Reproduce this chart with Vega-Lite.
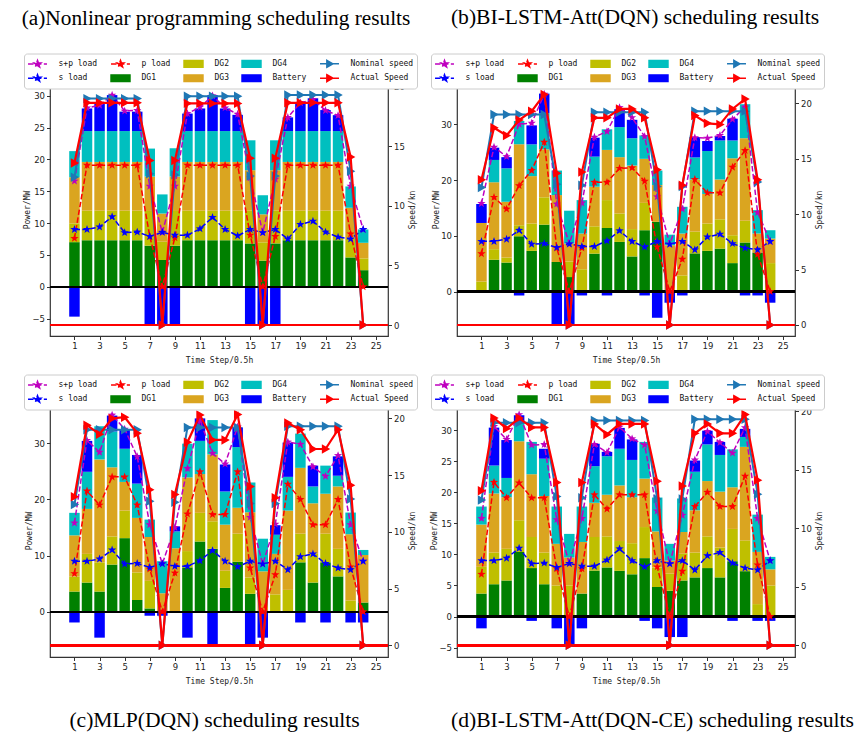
{
"$schema":"https://vega.github.io/schema/vega-lite/v6.json",
"autosize":{"type":"none"},
"padding":{"left":50,"top":83,"right":815,"bottom":658},
"background":"white",
"datasets":{
"a":[
{"t":1,"DG1":7.0,"DG2":2.95,"DG3":7.25,"DG4":4.1,"Battery":-4.7,"s+p load":16.6,"p load":7.6,"s load":9.0,"Nominal speed":12.4,"Actual Speed":13.6},
{"t":2,"DG1":7.3,"DG2":4.65,"DG3":7.65,"DG4":4.85,"Battery":3.55,"s+p load":28.1,"p load":19.1,"s load":9.0,"Nominal speed":19.0,"Actual Speed":18.65},
{"t":3,"DG1":7.3,"DG2":4.65,"DG3":7.65,"DG4":4.85,"Battery":4.25,"s+p load":28.5,"p load":19.1,"s load":9.4,"Nominal speed":19.0,"Actual Speed":18.65},
{"t":4,"DG1":7.3,"DG2":4.65,"DG3":7.65,"DG4":4.85,"Battery":5.65,"s+p load":30.1,"p load":19.1,"s load":11.0,"Nominal speed":19.0,"Actual Speed":18.65},
{"t":5,"DG1":7.3,"DG2":4.65,"DG3":7.65,"DG4":4.85,"Battery":3.05,"s+p load":27.6,"p load":19.1,"s load":8.5,"Nominal speed":19.0,"Actual Speed":18.65},
{"t":6,"DG1":7.3,"DG2":4.65,"DG3":7.65,"DG4":4.85,"Battery":3.05,"s+p load":27.7,"p load":19.1,"s load":8.6,"Nominal speed":19.0,"Actual Speed":18.65},
{"t":7,"DG1":6.45,"DG2":5.45,"DG3":5.4,"DG4":4.4,"Battery":-5.9,"s+p load":15.8,"p load":7.9,"s load":7.9,"Nominal speed":12.7,"Actual Speed":13.8},
{"t":8,"DG1":4.2,"DG2":2.87,"DG3":4.43,"DG4":3.0,"Battery":-5.9,"s+p load":8.55,"p load":0,"s load":8.55,"Nominal speed":0,"Actual Speed":0},
{"t":9,"DG1":6.45,"DG2":5.45,"DG3":5.4,"DG4":4.45,"Battery":-5.9,"s+p load":15.8,"p load":7.7,"s load":8.1,"Nominal speed":12.6,"Actual Speed":13.8},
{"t":10,"DG1":7.3,"DG2":4.65,"DG3":7.65,"DG4":4.85,"Battery":2.75,"s+p load":27.2,"p load":19.1,"s load":8.1,"Nominal speed":19.2,"Actual Speed":18.6},
{"t":11,"DG1":7.3,"DG2":4.65,"DG3":7.65,"DG4":4.85,"Battery":3.55,"s+p load":28.2,"p load":19.1,"s load":9.1,"Nominal speed":19.2,"Actual Speed":18.6},
{"t":12,"DG1":7.3,"DG2":4.65,"DG3":7.65,"DG4":4.85,"Battery":5.65,"s+p load":30.0,"p load":19.1,"s load":10.9,"Nominal speed":19.2,"Actual Speed":18.6},
{"t":13,"DG1":7.3,"DG2":4.65,"DG3":7.65,"DG4":4.85,"Battery":3.55,"s+p load":28.1,"p load":19.1,"s load":9.0,"Nominal speed":19.2,"Actual Speed":18.6},
{"t":14,"DG1":7.3,"DG2":4.65,"DG3":7.65,"DG4":4.85,"Battery":2.55,"s+p load":27.1,"p load":19.1,"s load":8.0,"Nominal speed":19.2,"Actual Speed":18.6},
{"t":15,"DG1":6.8,"DG2":5.14,"DG3":6.36,"DG4":4.7,"Battery":-5.9,"s+p load":17.1,"p load":8.1,"s load":9.0,"Nominal speed":12.5,"Actual Speed":14.0},
{"t":16,"DG1":4.1,"DG2":2.87,"DG3":4.4,"DG4":3.0,"Battery":-5.9,"s+p load":8.5,"p load":0,"s load":8.5,"Nominal speed":0,"Actual Speed":0},
{"t":17,"DG1":6.8,"DG2":5.14,"DG3":6.36,"DG4":4.7,"Battery":-5.9,"s+p load":16.9,"p load":7.9,"s load":9.0,"Nominal speed":12.5,"Actual Speed":14.0},
{"t":18,"DG1":7.3,"DG2":4.65,"DG3":7.65,"DG4":4.85,"Battery":2.15,"s+p load":26.6,"p load":19.1,"s load":7.5,"Nominal speed":19.3,"Actual Speed":18.65},
{"t":19,"DG1":7.3,"DG2":4.65,"DG3":7.65,"DG4":4.85,"Battery":4.35,"s+p load":28.9,"p load":19.1,"s load":9.8,"Nominal speed":19.3,"Actual Speed":18.65},
{"t":20,"DG1":7.3,"DG2":4.65,"DG3":7.65,"DG4":4.85,"Battery":5.15,"s+p load":29.4,"p load":19.1,"s load":10.3,"Nominal speed":19.3,"Actual Speed":18.65},
{"t":21,"DG1":7.3,"DG2":4.65,"DG3":7.65,"DG4":4.85,"Battery":3.3,"s+p load":27.7,"p load":19.1,"s load":8.6,"Nominal speed":19.3,"Actual Speed":18.65},
{"t":22,"DG1":7.3,"DG2":4.65,"DG3":7.65,"DG4":4.85,"Battery":2.5,"s+p load":26.9,"p load":19.1,"s load":7.8,"Nominal speed":19.3,"Actual Speed":18.65},
{"t":23,"DG1":4.6,"DG2":2.9,"DG3":4.9,"DG4":3.35,"Battery":0,"s+p load":15.8,"p load":8.3,"s load":7.5,"Nominal speed":12.9,"Actual Speed":14.1},
{"t":24,"DG1":2.6,"DG2":1.85,"DG3":2.45,"DG4":2.1,"Battery":0,"s+p load":9.0,"p load":0,"s load":9.0,"Nominal speed":0,"Actual Speed":0}
],
"b":[
{"t":1,"DG1":0,"DG2":1.8,"DG3":10.5,"DG4":0,"Battery":3.4,"s+p load":15.8,"p load":6.8,"s load":9.0,"Nominal speed":12.4,"Actual Speed":13.1},
{"t":2,"DG1":5.7,"DG2":1.9,"DG3":12.0,"DG4":4.0,"Battery":2.2,"s+p load":25.9,"p load":16.9,"s load":9.0,"Nominal speed":19.0,"Actual Speed":17.8},
{"t":3,"DG1":5.2,"DG2":0.9,"DG3":10.0,"DG4":6.0,"Battery":2.0,"s+p load":24.2,"p load":14.8,"s load":9.4,"Nominal speed":19.0,"Actual Speed":17.1},
{"t":4,"DG1":9.9,"DG2":2.0,"DG3":14.5,"DG4":4.2,"Battery":-0.7,"s+p load":30.0,"p load":19.0,"s load":11.0,"Nominal speed":19.0,"Actual Speed":18.5},
{"t":5,"DG1":7.3,"DG2":4.9,"DG3":8.5,"DG4":5.7,"Battery":3.4,"s+p load":30.2,"p load":21.7,"s load":8.5,"Nominal speed":19.0,"Actual Speed":19.3},
{"t":6,"DG1":12.0,"DG2":4.9,"DG3":8.6,"DG4":6.5,"Battery":3.5,"s+p load":35.4,"p load":26.8,"s load":8.6,"Nominal speed":19.0,"Actual Speed":20.8},
{"t":7,"DG1":5.3,"DG2":0,"DG3":12.0,"DG4":4.4,"Battery":-6.0,"s+p load":15.7,"p load":7.8,"s load":7.9,"Nominal speed":12.7,"Actual Speed":13.7},
{"t":8,"DG1":2.6,"DG2":2.8,"DG3":3.2,"DG4":5.9,"Battery":-6.0,"s+p load":8.55,"p load":0,"s load":8.55,"Nominal speed":0,"Actual Speed":0},
{"t":9,"DG1":0,"DG2":4.0,"DG3":6.4,"DG4":6.0,"Battery":-0.7,"s+p load":15.9,"p load":7.8,"s load":8.1,"Nominal speed":12.6,"Actual Speed":13.8},
{"t":10,"DG1":6.8,"DG2":4.9,"DG3":7.1,"DG4":5.4,"Battery":3.4,"s+p load":27.7,"p load":19.6,"s load":8.1,"Nominal speed":19.2,"Actual Speed":18.7},
{"t":11,"DG1":11.4,"DG2":5.0,"DG3":9.0,"DG4":3.7,"Battery":-0.7,"s+p load":28.7,"p load":19.6,"s load":9.1,"Nominal speed":19.2,"Actual Speed":18.7},
{"t":12,"DG1":8.9,"DG2":5.1,"DG3":10.1,"DG4":5.4,"Battery":3.2,"s+p load":33.0,"p load":22.1,"s load":10.9,"Nominal speed":19.2,"Actual Speed":19.5},
{"t":13,"DG1":6.3,"DG2":4.9,"DG3":11.4,"DG4":4.9,"Battery":3.3,"s+p load":31.2,"p load":22.2,"s load":9.0,"Nominal speed":19.2,"Actual Speed":19.5},
{"t":14,"DG1":11.0,"DG2":4.9,"DG3":7.9,"DG4":4.2,"Battery":-0.7,"s+p load":27.8,"p load":19.8,"s load":8.0,"Nominal speed":19.2,"Actual Speed":18.7},
{"t":15,"DG1":12.5,"DG2":0,"DG3":6.6,"DG4":2.6,"Battery":-4.7,"s+p load":17.0,"p load":8.0,"s load":9.0,"Nominal speed":12.5,"Actual Speed":14.0},
{"t":16,"DG1":0,"DG2":0,"DG3":8.3,"DG4":1.9,"Battery":-2.0,"s+p load":8.5,"p load":0,"s load":8.5,"Nominal speed":0,"Actual Speed":0},
{"t":17,"DG1":0,"DG2":2.9,"DG3":7.5,"DG4":4.8,"Battery":-0.7,"s+p load":14.8,"p load":5.8,"s load":9.0,"Nominal speed":12.5,"Actual Speed":12.6},
{"t":18,"DG1":6.85,"DG2":3.9,"DG3":9.35,"DG4":3.95,"Battery":3.65,"s+p load":27.6,"p load":20.1,"s load":7.5,"Nominal speed":19.3,"Actual Speed":18.9},
{"t":19,"DG1":7.3,"DG2":4.9,"DG3":5.3,"DG4":7.7,"Battery":1.8,"s+p load":27.5,"p load":17.7,"s load":9.8,"Nominal speed":19.3,"Actual Speed":18.2},
{"t":20,"DG1":7.7,"DG2":5.25,"DG3":7.15,"DG4":7.0,"Battery":0.8,"s+p load":28.0,"p load":17.7,"s load":10.3,"Nominal speed":19.3,"Actual Speed":18.1},
{"t":21,"DG1":5.1,"DG2":5.0,"DG3":13.8,"DG4":3.2,"Battery":3.9,"s+p load":30.9,"p load":22.3,"s load":8.6,"Nominal speed":19.3,"Actual Speed":19.5},
{"t":22,"DG1":8.8,"DG2":3.9,"DG3":14.8,"DG4":6.1,"Battery":-0.7,"s+p load":33.1,"p load":25.3,"s load":7.8,"Nominal speed":19.3,"Actual Speed":20.4},
{"t":23,"DG1":7.0,"DG2":0,"DG3":3.4,"DG4":4.2,"Battery":-0.7,"s+p load":14.2,"p load":6.7,"s load":7.5,"Nominal speed":12.9,"Actual Speed":13.1},
{"t":24,"DG1":0,"DG2":5.1,"DG3":4.4,"DG4":1.5,"Battery":-2.0,"s+p load":9.0,"p load":0,"s load":9.0,"Nominal speed":0,"Actual Speed":0}
],
"c":[
{"t":1,"DG1":3.6,"DG2":2.65,"DG3":7.35,"DG4":4.0,"Battery":-1.9,"s+p load":15.8,"p load":6.8,"s load":9.0,"Nominal speed":12.4,"Actual Speed":13.1},
{"t":2,"DG1":5.2,"DG2":5.1,"DG3":8.0,"DG4":6.6,"Battery":5.5,"s+p load":30.5,"p load":21.5,"s load":9.0,"Nominal speed":19.0,"Actual Speed":19.4},
{"t":3,"DG1":3.6,"DG2":5.2,"DG3":18.3,"DG4":5.9,"Battery":-4.6,"s+p load":28.4,"p load":19.0,"s load":9.4,"Nominal speed":19.0,"Actual Speed":18.6},
{"t":4,"DG1":8.4,"DG2":5.0,"DG3":12.3,"DG4":6.4,"Battery":2.8,"s+p load":35.0,"p load":24.0,"s load":11.0,"Nominal speed":19.0,"Actual Speed":20.0},
{"t":5,"DG1":13.1,"DG2":4.9,"DG3":5.1,"DG4":5.9,"Battery":3.4,"s+p load":32.5,"p load":24.0,"s load":8.5,"Nominal speed":19.0,"Actual Speed":20.1},
{"t":6,"DG1":2.1,"DG2":4.9,"DG3":9.7,"DG4":6.1,"Battery":5.1,"s+p load":27.6,"p load":19.0,"s load":8.6,"Nominal speed":19.0,"Actual Speed":18.7},
{"t":7,"DG1":0.6,"DG2":4.9,"DG3":7.8,"DG4":3.1,"Battery":-0.7,"s+p load":15.5,"p load":7.6,"s load":7.9,"Nominal speed":12.7,"Actual Speed":13.7},
{"t":8,"DG1":0,"DG2":0,"DG3":3.3,"DG4":5.7,"Battery":-0.7,"s+p load":8.55,"p load":0,"s load":8.55,"Nominal speed":0,"Actual Speed":0},
{"t":9,"DG1":0,"DG2":0,"DG3":11.3,"DG4":3.0,"Battery":0.9,"s+p load":15.0,"p load":6.9,"s load":8.1,"Nominal speed":12.6,"Actual Speed":13.3},
{"t":10,"DG1":7.9,"DG2":2.9,"DG3":13.1,"DG4":6.0,"Battery":-4.6,"s+p load":25.5,"p load":17.4,"s load":8.1,"Nominal speed":19.2,"Actual Speed":17.9},
{"t":11,"DG1":12.5,"DG2":5.1,"DG3":6.9,"DG4":5.9,"Battery":4.0,"s+p load":34.0,"p load":24.9,"s load":9.1,"Nominal speed":19.2,"Actual Speed":20.3},
{"t":12,"DG1":11.2,"DG2":4.9,"DG3":11.9,"DG4":6.1,"Battery":-5.95,"s+p load":28.2,"p load":17.3,"s load":10.9,"Nominal speed":19.2,"Actual Speed":18.1},
{"t":13,"DG1":4.25,"DG2":3.05,"DG3":8.2,"DG4":5.9,"Battery":4.8,"s+p load":26.3,"p load":17.3,"s load":9.0,"Nominal speed":19.2,"Actual Speed":18.1},
{"t":14,"DG1":8.9,"DG2":5.0,"DG3":4.6,"DG4":10.8,"Battery":3.5,"s+p load":32.9,"p load":24.9,"s load":8.0,"Nominal speed":19.2,"Actual Speed":20.35},
{"t":15,"DG1":3.2,"DG2":2.9,"DG3":11.6,"DG4":5.3,"Battery":-5.95,"s+p load":16.8,"p load":7.8,"s load":9.0,"Nominal speed":12.5,"Actual Speed":14.0},
{"t":16,"DG1":0,"DG2":0,"DG3":7.2,"DG4":5.8,"Battery":-4.6,"s+p load":8.5,"p load":0,"s load":8.5,"Nominal speed":0,"Actual Speed":0},
{"t":17,"DG1":0,"DG2":3.1,"DG3":7.2,"DG4":3.4,"Battery":1.7,"s+p load":15.6,"p load":6.6,"s load":9.0,"Nominal speed":12.5,"Actual Speed":13.0},
{"t":18,"DG1":0,"DG2":3.9,"DG3":14.1,"DG4":6.0,"Battery":6.1,"s+p load":30.2,"p load":22.7,"s load":7.5,"Nominal speed":19.3,"Actual Speed":19.6},
{"t":19,"DG1":8.8,"DG2":5.1,"DG3":11.7,"DG4":6.1,"Battery":-1.9,"s+p load":29.8,"p load":20.0,"s load":9.8,"Nominal speed":19.3,"Actual Speed":19.0},
{"t":20,"DG1":5.2,"DG2":5.1,"DG3":9.0,"DG4":3.0,"Battery":3.7,"s+p load":25.8,"p load":15.5,"s load":10.3,"Nominal speed":19.3,"Actual Speed":17.3},
{"t":21,"DG1":8.8,"DG2":5.1,"DG3":7.1,"DG4":5.0,"Battery":-1.9,"s+p load":24.1,"p load":15.5,"s load":8.6,"Nominal speed":19.3,"Actual Speed":17.3},
{"t":22,"DG1":6.3,"DG2":4.9,"DG3":11.1,"DG4":1.9,"Battery":3.45,"s+p load":27.8,"p load":20.0,"s load":7.8,"Nominal speed":19.3,"Actual Speed":19.0},
{"t":23,"DG1":0,"DG2":2.0,"DG3":11.8,"DG4":3.85,"Battery":-1.9,"s+p load":15.5,"p load":8.0,"s load":7.5,"Nominal speed":12.9,"Actual Speed":14.1},
{"t":24,"DG1":1.65,"DG2":0,"DG3":8.45,"DG4":0.9,"Battery":-1.9,"s+p load":9.0,"p load":0,"s load":9.0,"Nominal speed":0,"Actual Speed":0}
],
"d":[
{"t":1,"DG1":3.7,"DG2":4.3,"DG3":6.8,"DG4":2.9,"Battery":-1.9,"s+p load":15.8,"p load":6.8,"s load":9.0,"Nominal speed":12.4,"Actual Speed":13.2},
{"t":2,"DG1":5.2,"DG2":5.1,"DG3":9.5,"DG4":4.5,"Battery":6.1,"s+p load":30.6,"p load":21.6,"s load":9.0,"Nominal speed":19.0,"Actual Speed":19.4},
{"t":3,"DG1":5.8,"DG2":5.1,"DG3":8.3,"DG4":3.1,"Battery":6.1,"s+p load":28.5,"p load":19.1,"s load":9.4,"Nominal speed":19.0,"Actual Speed":18.5},
{"t":4,"DG1":10.4,"DG2":5.1,"DG3":12.7,"DG4":3.1,"Battery":1.1,"s+p load":32.5,"p load":21.5,"s load":11.0,"Nominal speed":19.0,"Actual Speed":19.4},
{"t":5,"DG1":7.8,"DG2":5.0,"DG3":10.1,"DG4":5.2,"Battery":-0.7,"s+p load":27.6,"p load":19.1,"s load":8.5,"Nominal speed":19.0,"Actual Speed":18.6},
{"t":6,"DG1":5.2,"DG2":5.1,"DG3":9.1,"DG4":6.0,"Battery":1.6,"s+p load":27.7,"p load":19.1,"s load":8.6,"Nominal speed":19.0,"Actual Speed":18.6},
{"t":7,"DG1":0,"DG2":5.0,"DG3":6.7,"DG4":6.0,"Battery":-1.9,"s+p load":15.6,"p load":7.7,"s load":7.9,"Nominal speed":12.7,"Actual Speed":13.9},
{"t":8,"DG1":0,"DG2":5.0,"DG3":4.5,"DG4":3.8,"Battery":-4.6,"s+p load":8.55,"p load":0,"s load":8.55,"Nominal speed":0,"Actual Speed":0},
{"t":9,"DG1":3.7,"DG2":0,"DG3":8.3,"DG4":5.7,"Battery":-1.9,"s+p load":15.8,"p load":7.7,"s load":8.1,"Nominal speed":12.6,"Actual Speed":13.9},
{"t":10,"DG1":7.4,"DG2":5.4,"DG3":5.5,"DG4":5.9,"Battery":3.6,"s+p load":27.7,"p load":19.6,"s load":8.1,"Nominal speed":19.2,"Actual Speed":18.9},
{"t":11,"DG1":7.9,"DG2":5.0,"DG3":6.7,"DG4":6.2,"Battery":0.7,"s+p load":26.4,"p load":17.3,"s load":9.1,"Nominal speed":19.2,"Actual Speed":18.0},
{"t":12,"DG1":7.35,"DG2":4.8,"DG3":8.95,"DG4":5.9,"Battery":3.35,"s+p load":30.5,"p load":19.6,"s load":10.9,"Nominal speed":19.2,"Actual Speed":18.9},
{"t":13,"DG1":6.8,"DG2":5.0,"DG3":7.4,"DG4":6.0,"Battery":3.3,"s+p load":28.6,"p load":19.6,"s load":9.0,"Nominal speed":19.2,"Actual Speed":18.9},
{"t":14,"DG1":9.4,"DG2":5.0,"DG3":7.8,"DG4":5.9,"Battery":-0.7,"s+p load":27.6,"p load":19.6,"s load":8.0,"Nominal speed":19.2,"Actual Speed":18.9},
{"t":15,"DG1":4.75,"DG2":3.15,"DG3":5.8,"DG4":5.45,"Battery":-1.9,"s+p load":17.0,"p load":8.0,"s load":9.0,"Nominal speed":12.5,"Actual Speed":14.0},
{"t":16,"DG1":4.15,"DG2":2.75,"DG3":2.1,"DG4":2.7,"Battery":-3.3,"s+p load":8.5,"p load":0,"s load":8.5,"Nominal speed":0,"Actual Speed":0},
{"t":17,"DG1":5.8,"DG2":4.3,"DG3":3.5,"DG4":5.4,"Battery":-3.3,"s+p load":16.3,"p load":7.3,"s load":9.0,"Nominal speed":12.5,"Actual Speed":13.6},
{"t":18,"DG1":6.3,"DG2":4.0,"DG3":6.8,"DG4":6.2,"Battery":1.8,"s+p load":25.2,"p load":17.7,"s load":7.5,"Nominal speed":19.3,"Actual Speed":18.1},
{"t":19,"DG1":7.8,"DG2":5.1,"DG3":8.9,"DG4":5.9,"Battery":2.2,"s+p load":29.8,"p load":20.0,"s load":9.8,"Nominal speed":19.3,"Actual Speed":18.9},
{"t":20,"DG1":6.3,"DG2":4.8,"DG3":9.0,"DG4":5.9,"Battery":2.1,"s+p load":28.0,"p load":17.7,"s load":10.3,"Nominal speed":19.3,"Actual Speed":18.1},
{"t":21,"DG1":8.9,"DG2":5.2,"DG3":6.7,"DG4":6.1,"Battery":-0.7,"s+p load":26.3,"p load":17.7,"s load":8.6,"Nominal speed":19.3,"Actual Speed":18.1},
{"t":22,"DG1":7.3,"DG2":4.95,"DG3":15.05,"DG4":1.6,"Battery":1.3,"s+p load":30.4,"p load":22.6,"s load":7.8,"Nominal speed":19.3,"Actual Speed":19.7},
{"t":23,"DG1":0,"DG2":2.0,"DG3":8.4,"DG4":6.0,"Battery":-0.7,"s+p load":15.8,"p load":8.3,"s load":7.5,"Nominal speed":12.9,"Actual Speed":14.1},
{"t":24,"DG1":0,"DG2":5.0,"DG3":2.6,"DG4":2.0,"Battery":-0.7,"s+p load":9.0,"p load":0,"s load":9.0,"Nominal speed":0,"Actual Speed":0}
]
},
"columns":2,
"spacing":{"row":68,"column":69},
"bounds":"flush",
"concat":[
{"width":338,"height":253,
"title":{"text":"(a)Nonlinear programming scheduling results","orient":"top","offset":24,"dx":-3,"frame":"group","fontSize":21.3},
"data":{"name":"a"},
"layer":[
{"layer":[
{"transform":[{"fold":["DG1","DG2","DG3","DG4","Battery"],"as":["series","v"]},{"window":[{"op":"row_number","as":"k"}],"groupby":["t"]}],
"mark":{"type":"bar","width":10.5,"orient":"vertical"},
"encoding":{
"x":{"field":"t","type":"quantitative","scale":{"domain":[-0.55,25.58],"nice":false,"zero":false},"axis":{"title":"Time Step/0.5h","values":[1,3,5,7,9,11,13,15,17,19,21,23,25],"format":"d","tickCount":50,"titlePadding":6,"labelOverlap":false}},
"y":{"field":"v","type":"quantitative","stack":"zero","scale":{"domain":[-7.74,32],"nice":false,"zero":false},"axis":{"title":"Power/MW","values":[-5,0,5,10,15,20,25,30],"tickCount":50,"labelOverlap":false,"titlePadding":0}},
"fill":{"field":"series","type":"nominal","scale":{"domain":["s+p load","s load","p load","DG1","DG2","DG3","DG4","Battery","Nominal speed","Actual Speed"],"range":["#bf00bf","#0000ff","#ff0000","#008000","#bfbf00","#daa520","#00bfbf","#0000ff","#1f77b4","#ff0000"]},"legend":{"title":null,"orient":"none","legendX":-26,"legendY":-29.5}},
"order":{"field":"k","type":"quantitative","sort":"ascending"}}},
{"mark":{"type":"rule","color":"#000000","strokeWidth":1.5},"encoding":{"y":{"datum":0}}},
{"transform":[{"fold":["s+p load","p load","s load"],"as":["series","v"]}],
"mark":{"type":"line","strokeWidth":1.5},
"encoding":{"x":{"field":"t","type":"quantitative"},"y":{"field":"v","type":"quantitative"},
"stroke":{"field":"series","type":"nominal","scale":{"domain":["s+p load","s load","p load","DG1","DG2","DG3","DG4","Battery","Nominal speed","Actual Speed"],"range":["#bf00bf","#0000ff","#ff0000","#008000","#bfbf00","#daa520","#00bfbf","#0000ff","#1f77b4","#ff0000"]},"legend":{"title":null,"orient":"none","legendX":-26,"legendY":-29.5}},
"strokeDash":{"field":"series","type":"nominal","scale":{"domain":["s+p load","s load","p load","DG1","DG2","DG3","DG4","Battery","Nominal speed","Actual Speed"],"range":[[5.5,2.4],[5.5,2.4],[5.5,2.4],[1,0],[1,0],[1,0],[1,0],[1,0],[1,0],[1,0]]},"legend":{"title":null,"orient":"none","legendX":-26,"legendY":-29.5}}}},
{"transform":[{"fold":["s+p load","p load","s load"],"as":["series","v"]}],
"mark":{"type":"point","filled":true,"size":210,"opacity":1},
"encoding":{"x":{"field":"t","type":"quantitative"},"y":{"field":"v","type":"quantitative"},
"fill":{"field":"series","type":"nominal","legend":{"title":null,"orient":"none","legendX":-26,"legendY":-29.5}},
"shape":{"field":"series","type":"nominal","scale":{"domain":["s+p load","s load","p load","DG1","DG2","DG3","DG4","Battery","Nominal speed","Actual Speed"],"range":["M-1.58,0H1.58M0,-0.6L0.144,-0.198L0.571,-0.185L0.233,0.076L0.353,0.485L0,0.245L-0.353,0.485L-0.233,0.076L-0.571,-0.185L-0.144,-0.198Z","M-1.58,0H1.58M0,-0.6L0.144,-0.198L0.571,-0.185L0.233,0.076L0.353,0.485L0,0.245L-0.353,0.485L-0.233,0.076L-0.571,-0.185L-0.144,-0.198Z","M-1.58,0H1.58M0,-0.6L0.144,-0.198L0.571,-0.185L0.233,0.076L0.353,0.485L0,0.245L-0.353,0.485L-0.233,0.076L-0.571,-0.185L-0.144,-0.198Z","M-1.58,-0.55H1.58V0.55H-1.58Z","M-1.58,-0.55H1.58V0.55H-1.58Z","M-1.58,-0.55H1.58V0.55H-1.58Z","M-1.58,-0.55H1.58V0.55H-1.58Z","M-1.58,-0.55H1.58V0.55H-1.58Z","M-1.58,0H1.58M-0.44,-0.57L0.57,0L-0.44,0.57Z","M-1.58,0H1.58M-0.44,-0.57L0.57,0L-0.44,0.57Z"]},"legend":{"title":null,"orient":"none","legendX":-26,"legendY":-29.5}}}}
]},
{"layer":[
{"mark":{"type":"rule","color":"#ff0000","strokeWidth":2},"encoding":{"y":{"datum":0,"scale":{"domain":[-0.92,20.31],"nice":false,"zero":false},"axis":{"orient":"right","title":"Speed/kn","values":[0,5,10,15,20],"format":"d","tickCount":50,"titleAngle":270,"titleBaseline":"top","labelOverlap":false}}}},
{"transform":[{"fold":["Nominal speed"],"as":["series","v"]}],"mark":{"type":"line","strokeWidth":2},"encoding":{"x":{"field":"t","type":"quantitative"},"y":{"field":"v","type":"quantitative"},"stroke":{"field":"series","type":"nominal","legend":{"title":null,"orient":"none","legendX":-26,"legendY":-29.5}}}},
{"transform":[{"fold":["Nominal speed"],"as":["series","v"]}],"mark":{"type":"point","filled":true,"size":276,"opacity":1},"encoding":{"x":{"field":"t","type":"quantitative"},"y":{"field":"v","type":"quantitative"},"fill":{"field":"series","type":"nominal","legend":{"title":null,"orient":"none","legendX":-26,"legendY":-29.5}},"shape":{"field":"series","type":"nominal","legend":{"title":null,"orient":"none","legendX":-26,"legendY":-29.5}}}},
{"transform":[{"fold":["Actual Speed"],"as":["series","v"]}],"mark":{"type":"line","strokeWidth":2.2},"encoding":{"x":{"field":"t","type":"quantitative"},"y":{"field":"v","type":"quantitative"},"stroke":{"field":"series","type":"nominal","legend":{"title":null,"orient":"none","legendX":-26,"legendY":-29.5}}}},
{"transform":[{"fold":["Actual Speed"],"as":["series","v"]}],"mark":{"type":"point","filled":true,"size":276,"opacity":1},"encoding":{"x":{"field":"t","type":"quantitative"},"y":{"field":"v","type":"quantitative"},"fill":{"field":"series","type":"nominal","legend":{"title":null,"orient":"none","legendX":-26,"legendY":-29.5}},"shape":{"field":"series","type":"nominal","legend":{"title":null,"orient":"none","legendX":-26,"legendY":-29.5}}}}
]}
],
"resolve":{"scale":{"y":"independent"}}},
{"width":338,"height":253,
"title":{"text":"(b)BI-LSTM-Att(DQN) scheduling results","orient":"top","offset":24,"dx":9,"frame":"group"},
"data":{"name":"b"},
"layer":[
{"layer":[
{"transform":[{"fold":["DG1","DG2","DG3","DG4","Battery"],"as":["series","v"]},{"window":[{"op":"row_number","as":"k"}],"groupby":["t"]}],
"mark":{"type":"bar","width":10.5,"orient":"vertical"},
"encoding":{
"x":{"field":"t","type":"quantitative","scale":{"domain":[-0.55,25.58],"nice":false,"zero":false},"axis":{"title":"Time Step/0.5h","values":[1,3,5,7,9,11,13,15,17,19,21,23,25],"format":"d","tickCount":50,"titlePadding":6,"labelOverlap":false}},
"y":{"field":"v","type":"quantitative","stack":"zero","scale":{"domain":[-7.97,37.4],"nice":false,"zero":false},"axis":{"title":"Power/MW","values":[0,10,20,30],"format":"d","tickCount":50,"labelOverlap":false,"titlePadding":0}},
"fill":{"field":"series","type":"nominal","scale":{"domain":["s+p load","s load","p load","DG1","DG2","DG3","DG4","Battery","Nominal speed","Actual Speed"],"range":["#bf00bf","#0000ff","#ff0000","#008000","#bfbf00","#daa520","#00bfbf","#0000ff","#1f77b4","#ff0000"]},"legend":{"title":null,"orient":"none","legendX":-26,"legendY":-29.5}},
"order":{"field":"k","type":"quantitative","sort":"ascending"}}},
{"mark":{"type":"rule","color":"#000000","strokeWidth":1.5},"encoding":{"y":{"datum":0}}},
{"transform":[{"fold":["s+p load","p load","s load"],"as":["series","v"]}],
"mark":{"type":"line","strokeWidth":1.5},
"encoding":{"x":{"field":"t","type":"quantitative"},"y":{"field":"v","type":"quantitative"},
"stroke":{"field":"series","type":"nominal","scale":{"domain":["s+p load","s load","p load","DG1","DG2","DG3","DG4","Battery","Nominal speed","Actual Speed"],"range":["#bf00bf","#0000ff","#ff0000","#008000","#bfbf00","#daa520","#00bfbf","#0000ff","#1f77b4","#ff0000"]},"legend":{"title":null,"orient":"none","legendX":-26,"legendY":-29.5}},
"strokeDash":{"field":"series","type":"nominal","scale":{"domain":["s+p load","s load","p load","DG1","DG2","DG3","DG4","Battery","Nominal speed","Actual Speed"],"range":[[5.5,2.4],[5.5,2.4],[5.5,2.4],[1,0],[1,0],[1,0],[1,0],[1,0],[1,0],[1,0]]},"legend":{"title":null,"orient":"none","legendX":-26,"legendY":-29.5}}}},
{"transform":[{"fold":["s+p load","p load","s load"],"as":["series","v"]}],
"mark":{"type":"point","filled":true,"size":210,"opacity":1},
"encoding":{"x":{"field":"t","type":"quantitative"},"y":{"field":"v","type":"quantitative"},
"fill":{"field":"series","type":"nominal","legend":{"title":null,"orient":"none","legendX":-26,"legendY":-29.5}},
"shape":{"field":"series","type":"nominal","scale":{"domain":["s+p load","s load","p load","DG1","DG2","DG3","DG4","Battery","Nominal speed","Actual Speed"],"range":["M-1.58,0H1.58M0,-0.6L0.144,-0.198L0.571,-0.185L0.233,0.076L0.353,0.485L0,0.245L-0.353,0.485L-0.233,0.076L-0.571,-0.185L-0.144,-0.198Z","M-1.58,0H1.58M0,-0.6L0.144,-0.198L0.571,-0.185L0.233,0.076L0.353,0.485L0,0.245L-0.353,0.485L-0.233,0.076L-0.571,-0.185L-0.144,-0.198Z","M-1.58,0H1.58M0,-0.6L0.144,-0.198L0.571,-0.185L0.233,0.076L0.353,0.485L0,0.245L-0.353,0.485L-0.233,0.076L-0.571,-0.185L-0.144,-0.198Z","M-1.58,-0.55H1.58V0.55H-1.58Z","M-1.58,-0.55H1.58V0.55H-1.58Z","M-1.58,-0.55H1.58V0.55H-1.58Z","M-1.58,-0.55H1.58V0.55H-1.58Z","M-1.58,-0.55H1.58V0.55H-1.58Z","M-1.58,0H1.58M-0.44,-0.57L0.57,0L-0.44,0.57Z","M-1.58,0H1.58M-0.44,-0.57L0.57,0L-0.44,0.57Z"]},"legend":{"title":null,"orient":"none","legendX":-26,"legendY":-29.5}}}}
]},
{"layer":[
{"mark":{"type":"rule","color":"#ff0000","strokeWidth":2},"encoding":{"y":{"datum":0,"scale":{"domain":[-1.0,21.84],"nice":false,"zero":false},"axis":{"orient":"right","title":"Speed/kn","values":[0,5,10,15,20],"format":"d","tickCount":50,"titleAngle":270,"titleBaseline":"top","labelOverlap":false}}}},
{"transform":[{"fold":["Nominal speed"],"as":["series","v"]}],"mark":{"type":"line","strokeWidth":2},"encoding":{"x":{"field":"t","type":"quantitative"},"y":{"field":"v","type":"quantitative"},"stroke":{"field":"series","type":"nominal","legend":{"title":null,"orient":"none","legendX":-26,"legendY":-29.5}}}},
{"transform":[{"fold":["Nominal speed"],"as":["series","v"]}],"mark":{"type":"point","filled":true,"size":276,"opacity":1},"encoding":{"x":{"field":"t","type":"quantitative"},"y":{"field":"v","type":"quantitative"},"fill":{"field":"series","type":"nominal","legend":{"title":null,"orient":"none","legendX":-26,"legendY":-29.5}},"shape":{"field":"series","type":"nominal","legend":{"title":null,"orient":"none","legendX":-26,"legendY":-29.5}}}},
{"transform":[{"fold":["Actual Speed"],"as":["series","v"]}],"mark":{"type":"line","strokeWidth":2.2},"encoding":{"x":{"field":"t","type":"quantitative"},"y":{"field":"v","type":"quantitative"},"stroke":{"field":"series","type":"nominal","legend":{"title":null,"orient":"none","legendX":-26,"legendY":-29.5}}}},
{"transform":[{"fold":["Actual Speed"],"as":["series","v"]}],"mark":{"type":"point","filled":true,"size":276,"opacity":1},"encoding":{"x":{"field":"t","type":"quantitative"},"y":{"field":"v","type":"quantitative"},"fill":{"field":"series","type":"nominal","legend":{"title":null,"orient":"none","legendX":-26,"legendY":-29.5}},"shape":{"field":"series","type":"nominal","legend":{"title":null,"orient":"none","legendX":-26,"legendY":-29.5}}}}
]}
],
"resolve":{"scale":{"y":"independent"}}},
{"width":338,"height":253,
"title":{"text":"(c)MLP(DQN) scheduling results","orient":"bottom","offset":25,"dx":-4.5,"frame":"group"},
"data":{"name":"c"},
"layer":[
{"layer":[
{"transform":[{"fold":["DG1","DG2","DG3","DG4","Battery"],"as":["series","v"]},{"window":[{"op":"row_number","as":"k"}],"groupby":["t"]}],
"mark":{"type":"bar","width":10.5,"orient":"vertical"},
"encoding":{
"x":{"field":"t","type":"quantitative","scale":{"domain":[-0.55,25.58],"nice":false,"zero":false},"axis":{"title":"Time Step/0.5h","values":[1,3,5,7,9,11,13,15,17,19,21,23,25],"format":"d","tickCount":50,"titlePadding":6,"labelOverlap":false}},
"y":{"field":"v","type":"quantitative","stack":"zero","scale":{"domain":[-8.04,36.96],"nice":false,"zero":false},"axis":{"title":"Power/MW","values":[0,10,20,30],"format":"d","tickCount":50,"labelOverlap":false,"titlePadding":0}},
"fill":{"field":"series","type":"nominal","scale":{"domain":["s+p load","s load","p load","DG1","DG2","DG3","DG4","Battery","Nominal speed","Actual Speed"],"range":["#bf00bf","#0000ff","#ff0000","#008000","#bfbf00","#daa520","#00bfbf","#0000ff","#1f77b4","#ff0000"]},"legend":{"title":null,"orient":"none","legendX":-26,"legendY":-29.5}},
"order":{"field":"k","type":"quantitative","sort":"ascending"}}},
{"mark":{"type":"rule","color":"#000000","strokeWidth":1.5},"encoding":{"y":{"datum":0}}},
{"transform":[{"fold":["s+p load","p load","s load"],"as":["series","v"]}],
"mark":{"type":"line","strokeWidth":1.5},
"encoding":{"x":{"field":"t","type":"quantitative"},"y":{"field":"v","type":"quantitative"},
"stroke":{"field":"series","type":"nominal","scale":{"domain":["s+p load","s load","p load","DG1","DG2","DG3","DG4","Battery","Nominal speed","Actual Speed"],"range":["#bf00bf","#0000ff","#ff0000","#008000","#bfbf00","#daa520","#00bfbf","#0000ff","#1f77b4","#ff0000"]},"legend":{"title":null,"orient":"none","legendX":-26,"legendY":-29.5}},
"strokeDash":{"field":"series","type":"nominal","scale":{"domain":["s+p load","s load","p load","DG1","DG2","DG3","DG4","Battery","Nominal speed","Actual Speed"],"range":[[5.5,2.4],[5.5,2.4],[5.5,2.4],[1,0],[1,0],[1,0],[1,0],[1,0],[1,0],[1,0]]},"legend":{"title":null,"orient":"none","legendX":-26,"legendY":-29.5}}}},
{"transform":[{"fold":["s+p load","p load","s load"],"as":["series","v"]}],
"mark":{"type":"point","filled":true,"size":210,"opacity":1},
"encoding":{"x":{"field":"t","type":"quantitative"},"y":{"field":"v","type":"quantitative"},
"fill":{"field":"series","type":"nominal","legend":{"title":null,"orient":"none","legendX":-26,"legendY":-29.5}},
"shape":{"field":"series","type":"nominal","scale":{"domain":["s+p load","s load","p load","DG1","DG2","DG3","DG4","Battery","Nominal speed","Actual Speed"],"range":["M-1.58,0H1.58M0,-0.6L0.144,-0.198L0.571,-0.185L0.233,0.076L0.353,0.485L0,0.245L-0.353,0.485L-0.233,0.076L-0.571,-0.185L-0.144,-0.198Z","M-1.58,0H1.58M0,-0.6L0.144,-0.198L0.571,-0.185L0.233,0.076L0.353,0.485L0,0.245L-0.353,0.485L-0.233,0.076L-0.571,-0.185L-0.144,-0.198Z","M-1.58,0H1.58M0,-0.6L0.144,-0.198L0.571,-0.185L0.233,0.076L0.353,0.485L0,0.245L-0.353,0.485L-0.233,0.076L-0.571,-0.185L-0.144,-0.198Z","M-1.58,-0.55H1.58V0.55H-1.58Z","M-1.58,-0.55H1.58V0.55H-1.58Z","M-1.58,-0.55H1.58V0.55H-1.58Z","M-1.58,-0.55H1.58V0.55H-1.58Z","M-1.58,-0.55H1.58V0.55H-1.58Z","M-1.58,0H1.58M-0.44,-0.57L0.57,0L-0.44,0.57Z","M-1.58,0H1.58M-0.44,-0.57L0.57,0L-0.44,0.57Z"]},"legend":{"title":null,"orient":"none","legendX":-26,"legendY":-29.5}}}}
]},
{"layer":[
{"mark":{"type":"rule","color":"#ff0000","strokeWidth":2},"encoding":{"y":{"datum":0,"scale":{"domain":[-1.04,21.27],"nice":false,"zero":false},"axis":{"orient":"right","title":"Speed/kn","values":[0,5,10,15,20],"format":"d","tickCount":50,"titleAngle":270,"titleBaseline":"top","labelOverlap":false}}}},
{"transform":[{"fold":["Nominal speed"],"as":["series","v"]}],"mark":{"type":"line","strokeWidth":2},"encoding":{"x":{"field":"t","type":"quantitative"},"y":{"field":"v","type":"quantitative"},"stroke":{"field":"series","type":"nominal","legend":{"title":null,"orient":"none","legendX":-26,"legendY":-29.5}}}},
{"transform":[{"fold":["Nominal speed"],"as":["series","v"]}],"mark":{"type":"point","filled":true,"size":276,"opacity":1},"encoding":{"x":{"field":"t","type":"quantitative"},"y":{"field":"v","type":"quantitative"},"fill":{"field":"series","type":"nominal","legend":{"title":null,"orient":"none","legendX":-26,"legendY":-29.5}},"shape":{"field":"series","type":"nominal","legend":{"title":null,"orient":"none","legendX":-26,"legendY":-29.5}}}},
{"transform":[{"fold":["Actual Speed"],"as":["series","v"]}],"mark":{"type":"line","strokeWidth":2.2},"encoding":{"x":{"field":"t","type":"quantitative"},"y":{"field":"v","type":"quantitative"},"stroke":{"field":"series","type":"nominal","legend":{"title":null,"orient":"none","legendX":-26,"legendY":-29.5}}}},
{"transform":[{"fold":["Actual Speed"],"as":["series","v"]}],"mark":{"type":"point","filled":true,"size":276,"opacity":1},"encoding":{"x":{"field":"t","type":"quantitative"},"y":{"field":"v","type":"quantitative"},"fill":{"field":"series","type":"nominal","legend":{"title":null,"orient":"none","legendX":-26,"legendY":-29.5}},"shape":{"field":"series","type":"nominal","legend":{"title":null,"orient":"none","legendX":-26,"legendY":-29.5}}}}
]}
],
"resolve":{"scale":{"y":"independent"}}},
{"width":338,"height":253,
"title":{"text":"(d)BI-LSTM-Att(DQN-CE) scheduling results","orient":"bottom","offset":25,"dx":26.5,"frame":"group"},
"data":{"name":"d"},
"layer":[
{"layer":[
{"transform":[{"fold":["DG1","DG2","DG3","DG4","Battery"],"as":["series","v"]},{"window":[{"op":"row_number","as":"k"}],"groupby":["t"]}],
"mark":{"type":"bar","width":10.5,"orient":"vertical"},
"encoding":{
"x":{"field":"t","type":"quantitative","scale":{"domain":[-0.55,25.58],"nice":false,"zero":false},"axis":{"title":"Time Step/0.5h","values":[1,3,5,7,9,11,13,15,17,19,21,23,25],"format":"d","tickCount":50,"titlePadding":6,"labelOverlap":false}},
"y":{"field":"v","type":"quantitative","stack":"zero","scale":{"domain":[-6.51,34.2],"nice":false,"zero":false},"axis":{"title":"Power/MW","values":[-5,0,5,10,15,20,25,30],"tickCount":50,"labelOverlap":false,"titlePadding":0}},
"fill":{"field":"series","type":"nominal","scale":{"domain":["s+p load","s load","p load","DG1","DG2","DG3","DG4","Battery","Nominal speed","Actual Speed"],"range":["#bf00bf","#0000ff","#ff0000","#008000","#bfbf00","#daa520","#00bfbf","#0000ff","#1f77b4","#ff0000"]},"legend":{"title":null,"orient":"none","legendX":-26,"legendY":-29.5}},
"order":{"field":"k","type":"quantitative","sort":"ascending"}}},
{"mark":{"type":"rule","color":"#000000","strokeWidth":1.5},"encoding":{"y":{"datum":0}}},
{"transform":[{"fold":["s+p load","p load","s load"],"as":["series","v"]}],
"mark":{"type":"line","strokeWidth":1.5},
"encoding":{"x":{"field":"t","type":"quantitative"},"y":{"field":"v","type":"quantitative"},
"stroke":{"field":"series","type":"nominal","scale":{"domain":["s+p load","s load","p load","DG1","DG2","DG3","DG4","Battery","Nominal speed","Actual Speed"],"range":["#bf00bf","#0000ff","#ff0000","#008000","#bfbf00","#daa520","#00bfbf","#0000ff","#1f77b4","#ff0000"]},"legend":{"title":null,"orient":"none","legendX":-26,"legendY":-29.5}},
"strokeDash":{"field":"series","type":"nominal","scale":{"domain":["s+p load","s load","p load","DG1","DG2","DG3","DG4","Battery","Nominal speed","Actual Speed"],"range":[[5.5,2.4],[5.5,2.4],[5.5,2.4],[1,0],[1,0],[1,0],[1,0],[1,0],[1,0],[1,0]]},"legend":{"title":null,"orient":"none","legendX":-26,"legendY":-29.5}}}},
{"transform":[{"fold":["s+p load","p load","s load"],"as":["series","v"]}],
"mark":{"type":"point","filled":true,"size":210,"opacity":1},
"encoding":{"x":{"field":"t","type":"quantitative"},"y":{"field":"v","type":"quantitative"},
"fill":{"field":"series","type":"nominal","legend":{"title":null,"orient":"none","legendX":-26,"legendY":-29.5}},
"shape":{"field":"series","type":"nominal","scale":{"domain":["s+p load","s load","p load","DG1","DG2","DG3","DG4","Battery","Nominal speed","Actual Speed"],"range":["M-1.58,0H1.58M0,-0.6L0.144,-0.198L0.571,-0.185L0.233,0.076L0.353,0.485L0,0.245L-0.353,0.485L-0.233,0.076L-0.571,-0.185L-0.144,-0.198Z","M-1.58,0H1.58M0,-0.6L0.144,-0.198L0.571,-0.185L0.233,0.076L0.353,0.485L0,0.245L-0.353,0.485L-0.233,0.076L-0.571,-0.185L-0.144,-0.198Z","M-1.58,0H1.58M0,-0.6L0.144,-0.198L0.571,-0.185L0.233,0.076L0.353,0.485L0,0.245L-0.353,0.485L-0.233,0.076L-0.571,-0.185L-0.144,-0.198Z","M-1.58,-0.55H1.58V0.55H-1.58Z","M-1.58,-0.55H1.58V0.55H-1.58Z","M-1.58,-0.55H1.58V0.55H-1.58Z","M-1.58,-0.55H1.58V0.55H-1.58Z","M-1.58,-0.55H1.58V0.55H-1.58Z","M-1.58,0H1.58M-0.44,-0.57L0.57,0L-0.44,0.57Z","M-1.58,0H1.58M-0.44,-0.57L0.57,0L-0.44,0.57Z"]},"legend":{"title":null,"orient":"none","legendX":-26,"legendY":-29.5}}}}
]},
{"layer":[
{"mark":{"type":"rule","color":"#ff0000","strokeWidth":2},"encoding":{"y":{"datum":0,"scale":{"domain":[-1.0,20.6],"nice":false,"zero":false},"axis":{"orient":"right","title":"Speed/kn","values":[0,5,10,15,20],"format":"d","tickCount":50,"titleAngle":270,"titleBaseline":"top","labelOverlap":false}}}},
{"transform":[{"fold":["Nominal speed"],"as":["series","v"]}],"mark":{"type":"line","strokeWidth":2},"encoding":{"x":{"field":"t","type":"quantitative"},"y":{"field":"v","type":"quantitative"},"stroke":{"field":"series","type":"nominal","legend":{"title":null,"orient":"none","legendX":-26,"legendY":-29.5}}}},
{"transform":[{"fold":["Nominal speed"],"as":["series","v"]}],"mark":{"type":"point","filled":true,"size":276,"opacity":1},"encoding":{"x":{"field":"t","type":"quantitative"},"y":{"field":"v","type":"quantitative"},"fill":{"field":"series","type":"nominal","legend":{"title":null,"orient":"none","legendX":-26,"legendY":-29.5}},"shape":{"field":"series","type":"nominal","legend":{"title":null,"orient":"none","legendX":-26,"legendY":-29.5}}}},
{"transform":[{"fold":["Actual Speed"],"as":["series","v"]}],"mark":{"type":"line","strokeWidth":2.2},"encoding":{"x":{"field":"t","type":"quantitative"},"y":{"field":"v","type":"quantitative"},"stroke":{"field":"series","type":"nominal","legend":{"title":null,"orient":"none","legendX":-26,"legendY":-29.5}}}},
{"transform":[{"fold":["Actual Speed"],"as":["series","v"]}],"mark":{"type":"point","filled":true,"size":276,"opacity":1},"encoding":{"x":{"field":"t","type":"quantitative"},"y":{"field":"v","type":"quantitative"},"fill":{"field":"series","type":"nominal","legend":{"title":null,"orient":"none","legendX":-26,"legendY":-29.5}},"shape":{"field":"series","type":"nominal","legend":{"title":null,"orient":"none","legendX":-26,"legendY":-29.5}}}}
]}
],
"resolve":{"scale":{"y":"independent"}}}
],
"resolve":{"scale":{"fill":"independent","stroke":"independent","shape":"independent","strokeDash":"independent"}},
"config":{
"view":{"stroke":"#333333","strokeWidth":1.2},
"axis":{"domain":false,"grid":false,"labelOverlap":false,"tickSize":3.5,"tickColor":"#333333","labelFont":"DejaVu Sans","labelFontSize":8.5,"labelColor":"#222222","labelPadding":2,"titleFont":"DejaVu Sans Mono","titleFontSize":8,"titleFontWeight":"normal","titleColor":"#222222","titlePadding":4.5},
"legend":{"columns":5,"labelFont":"DejaVu Sans Mono","labelFontSize":8,"labelColor":"#111111","symbolSize":144,"symbolStrokeWidth":1.5,"symbolOffset":3.5,"labelOffset":14,"columnPadding":10,"rowPadding":0.7,"padding":3,"strokeColor":"#cccccc","fillColor":"white","cornerRadius":3,"labelLimit":0,"symbolLimit":0},
"title":{"font":"Liberation Serif","fontSize":21.6,"fontWeight":"normal","color":"#000000","anchor":"middle"}
}
}
